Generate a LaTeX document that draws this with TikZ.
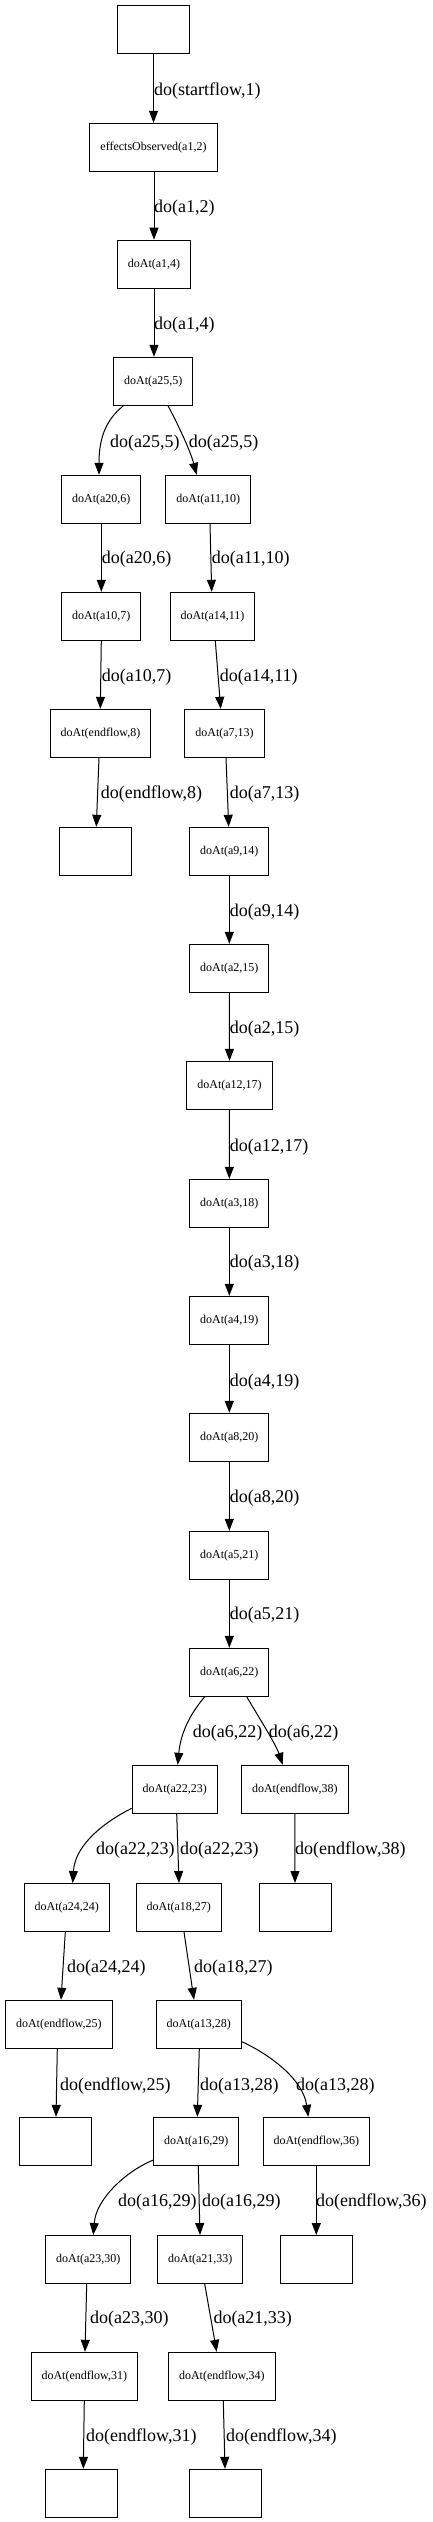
\documentclass[tikz,border=0pt]{standalone}
\usepackage{fontspec}
\setmainfont{Liberation Serif}
\usetikzlibrary{arrows.meta}
\tikzset{
  box/.style={draw, line width=1pt, rectangle, minimum width=72pt, minimum height=48pt,
    inner xsep=10.5pt, inner ysep=0pt, font=\fontsize{12}{14}\selectfont},
  lbl/.style={anchor=west, inner sep=0pt, font=\fontsize{18}{20}\selectfont},
  edge/.style={line width=1pt, -{Triangle[length=12pt,width=9pt]}},
}
\begin{document}
\begin{tikzpicture}[x=1pt,y=-1pt]
\useasboundingbox (0,0) rectangle (433,2522);
% nodes
\node[box] (n0) at (153.5,29.3) {};
\node[box] (n1) at (153.5,147.3) {effectsObserved(a1,2)};
\node[box] (n2) at (154,264.2) {doAt(a1,4)};
\node[box] (n3) at (153.3,381.3) {doAt(a25,5)};
\node[box] (n4) at (101.3,499.3) {doAt(a20,6)};
\node[box] (n5) at (208.3,499.3) {doAt(a11,10)};
\node[box] (n6) at (101.3,616.3) {doAt(a10,7)};
\node[box] (n7) at (212.5,616.3) {doAt(a14,11)};
\node[box] (n8) at (100.5,733.3) {doAt(endflow,8)};
\node[box] (n9) at (224.5,733.3) {doAt(a7,13)};
\node[box] (n10) at (95.5,851.3) {};
\node[box] (n11) at (229.3,851.3) {doAt(a9,14)};
\node[box] (n12) at (229.3,968.3) {doAt(a2,15)};
\node[box] (n13) at (229.5,1085.3) {doAt(a12,17)};
\node[box] (n14) at (229.3,1203.3) {doAt(a3,18)};
\node[box] (n15) at (229.3,1320.3) {doAt(a4,19)};
\node[box] (n16) at (229.3,1437.3) {doAt(a8,20)};
\node[box] (n17) at (229.3,1555.3) {doAt(a5,21)};
\node[box] (n18) at (229.3,1672.3) {doAt(a6,22)};
\node[box] (n19) at (174.8,1789.3) {doAt(a22,23)};
\node[box] (n20) at (294.8,1789.3) {doAt(endflow,38)};
\node[box] (n21) at (66.8,1907.5) {doAt(a24,24)};
\node[box] (n22) at (178.8,1907.5) {doAt(a18,27)};
\node[box] (n23) at (295.3,1907.5) {};
\node[box] (n24) at (58.8,2024.3) {doAt(endflow,25)};
\node[box] (n25) at (198.8,2024.3) {doAt(a13,28)};
\node[box] (n26) at (55.5,2141.3) {};
\node[box] (n27) at (196.3,2141.3) {doAt(a16,29)};
\node[box] (n28) at (316.3,2141.3) {doAt(endflow,36)};
\node[box] (n29) at (88.3,2259.5) {doAt(a23,30)};
\node[box] (n30) at (200.3,2259.5) {doAt(a21,33)};
\node[box] (n31) at (316.3,2259.5) {};
\node[box] (n32) at (84.3,2376.3) {doAt(endflow,31)};
\node[box] (n33) at (221.8,2376.3) {doAt(endflow,34)};
\node[box] (n34) at (81.3,2493.3) {};
\node[box] (n35) at (225.3,2493.3) {};
% straight edges
\draw[edge] (n0.south) -- (n1.north);
\draw[edge] ([xshift=0.5pt]n1.south) -- (n2.north);
\draw[edge] (n2.south) -- ([xshift=0.7pt]n3.north);
\draw[edge] (n4.south) -- (n6.north);
\draw[edge] ([xshift=1.7pt]n5.south) -- ([xshift=-0.8pt]n7.north);
\draw[edge] (n6.south) -- ([xshift=-0.2pt]n8.north);
\draw[edge] ([xshift=2.8pt]n7.south) -- ([xshift=-3.8pt]n9.north);
\draw[edge] ([xshift=-1.5pt]n8.south) -- ([xshift=0.8pt]n10.north);
\draw[edge] ([xshift=1.5pt]n9.south) -- ([xshift=-0.6pt]n11.north);
\draw[edge] (n11.south) -- (n12.north);
\draw[edge] (n12.south) -- (n13.north);
\draw[edge] (n13.south) -- (n14.north);
\draw[edge] (n14.south) -- (n15.north);
\draw[edge] (n15.south) -- (n16.north);
\draw[edge] (n16.south) -- (n17.north);
\draw[edge] (n17.south) -- (n18.north);
\draw[edge] ([xshift=1.9pt]n19.south) -- ([xshift=0.2pt]n22.north);
\draw[edge] (n20.south) -- ([xshift=-0.3pt]n23.north);
\draw[edge] ([xshift=-1.5pt]n21.south) -- ([xshift=2.2pt]n24.north);
\draw[edge] ([xshift=5.2pt]n22.south) -- ([xshift=-4.8pt]n25.north);
\draw[edge] ([xshift=-1.5pt]n24.south) -- ([xshift=0.5pt]n26.north);
\draw[edge] ([xshift=0.5pt]n25.south) -- ([xshift=1pt]n27.north);
\draw[edge] ([xshift=2pt]n27.south) -- ([xshift=-0.3pt]n30.north);
\draw[edge] (n28.south) -- (n31.north);
\draw[edge] ([xshift=-1.6pt]n29.south) -- ([xshift=0.7pt]n32.north);
\draw[edge] ([xshift=4.4pt]n30.south) -- ([xshift=-5.1pt]n33.north);
\draw[edge] (n32.south) -- ([xshift=2pt]n34.north);
\draw[edge] ([xshift=1.5pt]n33.south) -- ([xshift=-0.3pt]n35.north);
% curved edges
\draw[edge] ([xshift=-30pt]n3.south) .. controls +(-18.3,14.7) and +(0,-35.3) .. ([xshift=-2.3pt]n4.north);
\draw[edge] ([xshift=14.7pt]n3.south) .. controls +(8,14.7) and +(-6.7,-25.3) .. ([xshift=-11.6pt]n5.north);
\draw[edge] ([xshift=-24.6pt]n18.south) .. controls +(-11.7,13.7) and +(3.3,-35.3) .. ([xshift=2.9pt]n19.north);
\draw[edge] ([xshift=17.4pt]n18.south) .. controls +(9.3,15.7) and +(-6.7,-20.3) .. ([xshift=-12.1pt]n20.north);
\draw[edge] ([yshift=-19pt]n19.west) .. controls +(-27.3,13.7) and +(2.3,-38.3) .. ([xshift=5.9pt]n21.north);
\draw[edge] ([yshift=-17.4pt]n25.east) .. controls +(28.7,13.3) and +(-5.3,-37.3) .. ([xshift=-8pt]n28.north);
\draw[edge] ([yshift=-18.7pt]n27.west) .. controls +(-28.3,12) and +(2.7,-35.7) .. ([xshift=5pt]n29.north);
% labels
\node[lbl] (l1) at (154,90.7) {do(startflow,1)};
\node[lbl] (l2) at (154,207.7) {do(a1,2)};
\node[lbl] (l3) at (154,325) {do(a1,4)};
\node[lbl] (l4) at (110,442.7) {do(a25,5)};
\node[lbl] (l5) at (188.7,442.7) {do(a25,5)};
\node[lbl] (l6) at (101.7,559.3) {do(a20,6)};
\node[lbl] (l7) at (211.7,559.3) {do(a11,10)};
\node[lbl] (l8) at (101.7,677.3) {do(a10,7)};
\node[lbl] (l9) at (219.7,677.3) {do(a14,11)};
\node[lbl] (l10) at (100.7,794.3) {do(endflow,8)};
\node[lbl] (l11) at (229.7,794.3) {do(a7,13)};
\node[lbl] (l12) at (229.7,911.7) {do(a9,14)};
\node[lbl] (l13) at (229.7,1029.3) {do(a2,15)};
\node[lbl] (l14) at (229.7,1146.7) {do(a12,17)};
\node[lbl] (l15) at (229.7,1263.3) {do(a3,18)};
\node[lbl] (l16) at (229.7,1381.7) {do(a4,19)};
\node[lbl] (l17) at (229.7,1498.3) {do(a8,20)};
\node[lbl] (l18) at (229.7,1615) {do(a5,21)};
\node[lbl] (l19) at (192.7,1733.3) {do(a6,22)};
\node[lbl] (l20) at (268.7,1733.3) {do(a6,22)};
\node[lbl] (l21) at (96,1850) {do(a22,23)};
\node[lbl] (l22) at (180,1850) {do(a22,23)};
\node[lbl] (l23) at (295,1850) {do(endflow,38)};
\node[lbl] (l24) at (67,1967.7) {do(a24,24)};
\node[lbl] (l25) at (194,1967.7) {do(a18,27)};
\node[lbl] (l26) at (60,2085.7) {do(endflow,25)};
\node[lbl] (l27) at (200,2085.7) {do(a13,28)};
\node[lbl] (l28) at (296,2085.7) {do(a13,28)};
\node[lbl] (l29) at (118,2202.3) {do(a16,29)};
\node[lbl] (l30) at (202,2202.3) {do(a16,29)};
\node[lbl] (l31) at (316,2202.3) {do(endflow,36)};
\node[lbl] (l32) at (90,2319.3) {do(a23,30)};
\node[lbl] (l33) at (213.3,2319.3) {do(a21,33)};
\node[lbl] (l34) at (86,2436.7) {do(endflow,31)};
\node[lbl] (l35) at (226,2436.7) {do(endflow,34)};
\end{tikzpicture}
\end{document}
